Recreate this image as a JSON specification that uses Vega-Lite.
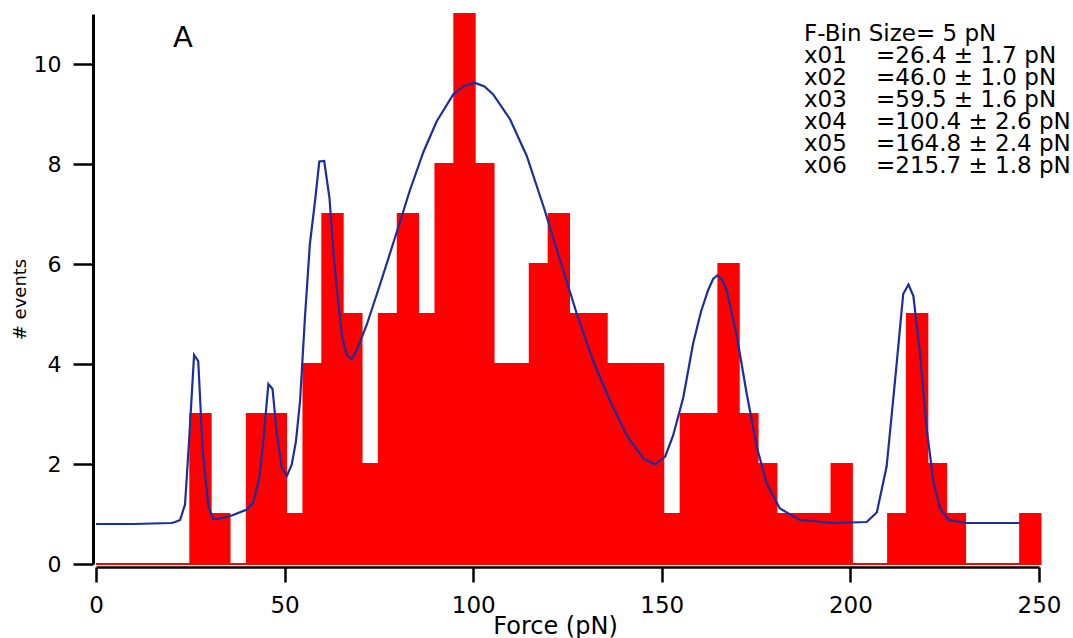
{
  "$schema": "https://vega.github.io/schema/vega-lite/v6.json",
  "width": 943,
  "height": 550,
  "autosize": {"type": "none"},
  "padding": {"left": 96, "top": 14, "right": 34, "bottom": 74},
  "background": "white",
  "config": {
    "view": {"stroke": null},
    "font": "DejaVu Sans",
    "axis": {
      "grid": false,
      "domainColor": "black",
      "tickColor": "black",
      "labelColor": "black",
      "titleColor": "black",
      "labelFont": "DejaVu Sans",
      "titleFont": "DejaVu Sans",
      "titleFontWeight": "normal",
      "labelFlush": false,
      "labelOverlap": false
    }
  },
  "datasets": {
    "bins": [
      {"start": 0, "end": 5, "count": 0},
      {"start": 5, "end": 10, "count": 0},
      {"start": 10, "end": 15, "count": 0},
      {"start": 15, "end": 20, "count": 0},
      {"start": 20, "end": 25, "count": 0},
      {"start": 25, "end": 30, "count": 3},
      {"start": 30, "end": 35, "count": 1},
      {"start": 35, "end": 40, "count": 0},
      {"start": 40, "end": 45, "count": 3},
      {"start": 45, "end": 50, "count": 3},
      {"start": 50, "end": 55, "count": 1},
      {"start": 55, "end": 60, "count": 4},
      {"start": 60, "end": 65, "count": 7},
      {"start": 65, "end": 70, "count": 5},
      {"start": 70, "end": 75, "count": 2},
      {"start": 75, "end": 80, "count": 5},
      {"start": 80, "end": 85, "count": 7},
      {"start": 85, "end": 90, "count": 5},
      {"start": 90, "end": 95, "count": 8},
      {"start": 95, "end": 100, "count": 11},
      {"start": 100, "end": 105, "count": 8},
      {"start": 105, "end": 110, "count": 4},
      {"start": 110, "end": 115, "count": 4},
      {"start": 115, "end": 120, "count": 6},
      {"start": 120, "end": 125, "count": 7},
      {"start": 125, "end": 130, "count": 5},
      {"start": 130, "end": 135, "count": 5},
      {"start": 135, "end": 140, "count": 4},
      {"start": 140, "end": 145, "count": 4},
      {"start": 145, "end": 150, "count": 4},
      {"start": 150, "end": 155, "count": 1},
      {"start": 155, "end": 160, "count": 3},
      {"start": 160, "end": 165, "count": 3},
      {"start": 165, "end": 170, "count": 6},
      {"start": 170, "end": 175, "count": 3},
      {"start": 175, "end": 180, "count": 2},
      {"start": 180, "end": 185, "count": 1},
      {"start": 185, "end": 190, "count": 1},
      {"start": 190, "end": 195, "count": 1},
      {"start": 195, "end": 200, "count": 2},
      {"start": 200, "end": 205, "count": 0},
      {"start": 205, "end": 210, "count": 0},
      {"start": 210, "end": 215, "count": 1},
      {"start": 215, "end": 220, "count": 5},
      {"start": 220, "end": 225, "count": 2},
      {"start": 225, "end": 230, "count": 1},
      {"start": 230, "end": 235, "count": 0},
      {"start": 235, "end": 240, "count": 0},
      {"start": 240, "end": 245, "count": 0},
      {"start": 245, "end": 250, "count": 1}
    ],
    "fit": [
      {"f": 0, "n": 0.80},
      {"f": 10, "n": 0.80},
      {"f": 20, "n": 0.82},
      {"f": 21, "n": 0.84},
      {"f": 22.3, "n": 0.88},
      {"f": 23.6, "n": 1.19},
      {"f": 24.7, "n": 2.49},
      {"f": 26.0, "n": 4.18},
      {"f": 27.1, "n": 4.06},
      {"f": 28.3, "n": 2.26},
      {"f": 29.8, "n": 1.15},
      {"f": 31.1, "n": 0.90},
      {"f": 32.4, "n": 0.90},
      {"f": 36, "n": 0.97},
      {"f": 40.0, "n": 1.09},
      {"f": 41.7, "n": 1.23},
      {"f": 43.3, "n": 1.72},
      {"f": 44.4, "n": 2.49},
      {"f": 45.7, "n": 3.60},
      {"f": 46.8, "n": 3.50},
      {"f": 47.9, "n": 2.64},
      {"f": 49.2, "n": 1.94},
      {"f": 50.6, "n": 1.76},
      {"f": 51.9, "n": 1.99},
      {"f": 53.0, "n": 2.45},
      {"f": 54.1, "n": 3.26},
      {"f": 55.4, "n": 4.94},
      {"f": 56.7, "n": 6.40},
      {"f": 58.1, "n": 7.28},
      {"f": 59.2, "n": 8.05},
      {"f": 60.5, "n": 8.06},
      {"f": 61.9, "n": 7.32},
      {"f": 63.1, "n": 6.09},
      {"f": 64.2, "n": 5.25},
      {"f": 65.3, "n": 4.52},
      {"f": 66.5, "n": 4.18},
      {"f": 67.8, "n": 4.10},
      {"f": 69.1, "n": 4.27},
      {"f": 71.8, "n": 4.79},
      {"f": 75.3, "n": 5.59},
      {"f": 79.7, "n": 6.63},
      {"f": 83.2, "n": 7.47},
      {"f": 86.8, "n": 8.24},
      {"f": 90.3, "n": 8.85},
      {"f": 94.7, "n": 9.39},
      {"f": 97.5, "n": 9.56},
      {"f": 100.5, "n": 9.62},
      {"f": 103.0, "n": 9.55},
      {"f": 105.3, "n": 9.39},
      {"f": 109.8, "n": 8.89},
      {"f": 114.2, "n": 8.16},
      {"f": 118.6, "n": 7.16},
      {"f": 123.0, "n": 6.09},
      {"f": 127.4, "n": 5.02},
      {"f": 131.8, "n": 4.06},
      {"f": 136.3, "n": 3.26},
      {"f": 140.7, "n": 2.57},
      {"f": 145.1, "n": 2.11},
      {"f": 148.2, "n": 1.99},
      {"f": 150.9, "n": 2.15},
      {"f": 153.0, "n": 2.57},
      {"f": 155.7, "n": 3.33},
      {"f": 158.3, "n": 4.41},
      {"f": 160.4, "n": 5.05},
      {"f": 162.3, "n": 5.48},
      {"f": 163.6, "n": 5.70},
      {"f": 164.7, "n": 5.77},
      {"f": 165.9, "n": 5.70},
      {"f": 167.2, "n": 5.48},
      {"f": 169.9, "n": 4.56},
      {"f": 172.5, "n": 3.41},
      {"f": 175.2, "n": 2.34},
      {"f": 177.8, "n": 1.61},
      {"f": 181.3, "n": 1.11},
      {"f": 186.6, "n": 0.88},
      {"f": 195.5, "n": 0.82},
      {"f": 204.3, "n": 0.84},
      {"f": 207.0, "n": 1.03},
      {"f": 209.6, "n": 1.95},
      {"f": 211.8, "n": 3.64},
      {"f": 214.0, "n": 5.40},
      {"f": 215.4, "n": 5.59},
      {"f": 216.7, "n": 5.36},
      {"f": 218.5, "n": 4.18},
      {"f": 220.2, "n": 2.72},
      {"f": 222.0, "n": 1.65},
      {"f": 223.8, "n": 1.11},
      {"f": 226.0, "n": 0.88},
      {"f": 230.8, "n": 0.82},
      {"f": 245, "n": 0.82}
    ],
    "notes": [
      {"kind": "panel", "x": 20.4, "y": 10.34, "label": "A"},
      {"kind": "head", "x": 187.7, "y": 10.46, "label": "F-Bin Size= 5 pN"},
      {"kind": "block", "x": 187.7, "y": 10.02, "label": "x01\nx02\nx03\nx04\nx05\nx06"},
      {"kind": "block", "x": 206.8, "y": 10.02, "label": "=26.4 ± 1.7 pN\n=46.0 ± 1.0 pN\n=59.5 ± 1.6 pN\n=100.4 ± 2.6 pN\n=164.8 ± 2.4 pN\n=215.7 ± 1.8 pN"}
    ]
  },
  "layer": [
    {
      "data": {"name": "bins"},
      "mark": {"type": "bar", "color": "#ff0000", "stroke": "#ff0000", "strokeWidth": 2, "x2Offset": 1.5},
      "encoding": {
        "x": {
          "field": "start",
          "type": "quantitative",
          "scale": {"domain": [0, 250], "nice": false, "zero": false},
          "axis": {
            "title": "Force (pN)",
            "values": [0, 50, 100, 150, 200, 250],
            "tickSize": 15,
            "tickWidth": 2.5,
            "domainWidth": 2.5,
            "offset": 3,
            "labelFontSize": 23,
            "labelPadding": 12,
            "titleFontSize": 24,
            "titleX": 459,
            "titleY": 66,
            "titleAlign": "center",
            "titleBaseline": "alphabetic"
          }
        },
        "x2": {"field": "end"},
        "y": {
          "field": "count",
          "type": "quantitative",
          "scale": {"domain": [0, 11], "nice": false},
          "axis": {
            "title": "# events",
            "values": [0, 2, 4, 6, 8, 10],
            "tickSize": 20,
            "tickWidth": 2.5,
            "domainWidth": 3,
            "offset": 3,
            "labelFontSize": 22,
            "labelPadding": 12,
            "titleFontSize": 18,
            "titleAngle": 270,
            "titleX": -68,
            "titleY": 285,
            "titleAlign": "center",
            "titleBaseline": "alphabetic"
          }
        },
        "y2": {"datum": 0}
      }
    },
    {
      "data": {"name": "fit"},
      "mark": {"type": "line", "color": "#1a2e9e", "strokeWidth": 2.2},
      "encoding": {
        "x": {"field": "f", "type": "quantitative"},
        "y": {"field": "n", "type": "quantitative"}
      }
    },
    {
      "data": {"name": "notes"},
      "transform": [{"filter": "datum.kind !== 'panel'"}],
      "mark": {"type": "text", "align": "left", "baseline": "alphabetic", "fontSize": 23, "lineHeight": 22, "lineBreak": "\n", "color": "black", "font": "DejaVu Sans"},
      "encoding": {
        "x": {"field": "x", "type": "quantitative"},
        "y": {"field": "y", "type": "quantitative"},
        "text": {"field": "label"}
      }
    },
    {
      "data": {"name": "notes"},
      "transform": [{"filter": "datum.kind === 'panel'"}],
      "mark": {"type": "text", "align": "left", "baseline": "alphabetic", "fontSize": 29, "color": "black", "font": "DejaVu Sans"},
      "encoding": {
        "x": {"field": "x", "type": "quantitative"},
        "y": {"field": "y", "type": "quantitative"},
        "text": {"field": "label"}
      }
    }
  ]
}
